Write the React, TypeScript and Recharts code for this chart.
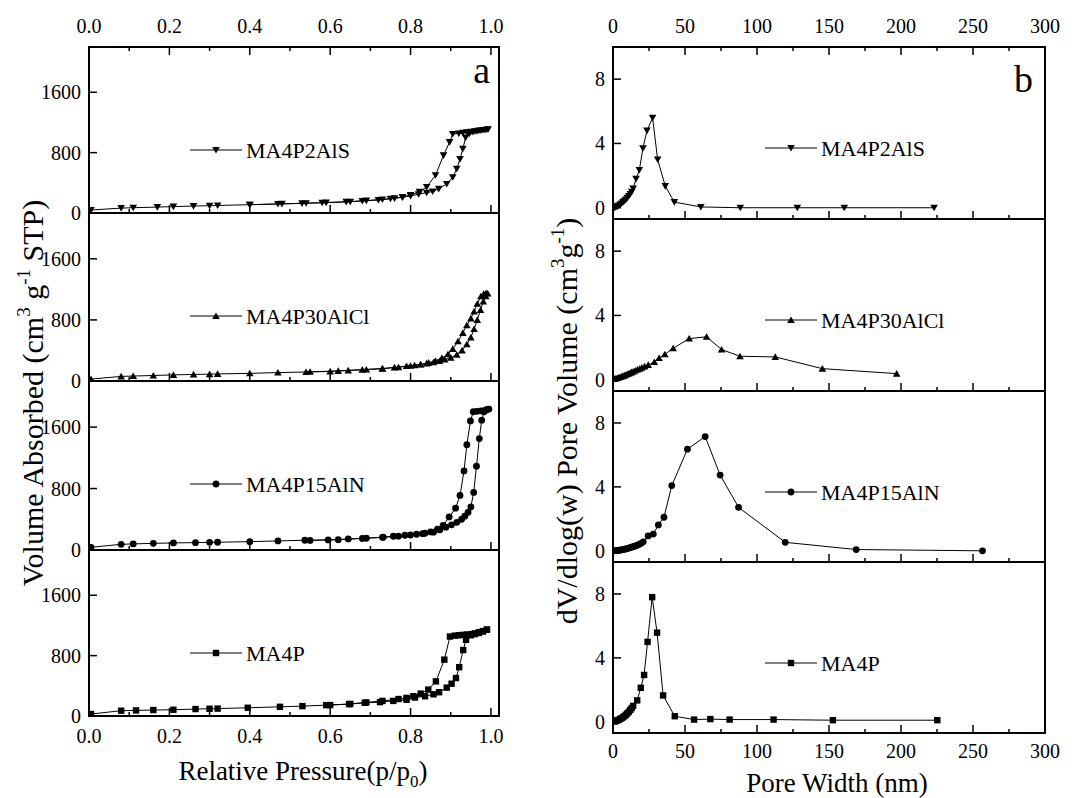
import React from "react";
import { LineChart, Line, XAxis, YAxis, ReferenceArea, Legend } from "recharts";

const FONT = '"Liberation Serif", "Times New Roman", Times, serif';

// ---- (a) N2 isotherms: relative pressure vs volume adsorbed (adsorption, then desorption) ----
const alsP = [0.005, 0.08, 0.11, 0.17, 0.21, 0.26, 0.3, 0.32, 0.4, 0.47, 0.54, 0.59, 0.65, 0.69, 0.73, 0.76, 0.78, 0.8, 0.82, 0.84, 0.855, 0.87, 0.89, 0.905, 0.915, 0.923, 0.93, 0.937, 0.946, 0.955, 0.965, 0.975, 0.985, 0.993,
  0.99, 0.98, 0.97, 0.96, 0.95, 0.94, 0.93, 0.92, 0.905, 0.897, 0.882, 0.862, 0.84, 0.822, 0.8, 0.78, 0.75, 0.72, 0.68, 0.64, 0.58, 0.53, 0.48, 0.4];
const alsV = [40, 65, 70, 78, 85, 92, 97, 100, 110, 120, 130, 138, 150, 165, 180, 195, 210, 225, 250, 270, 285, 320, 385, 475, 585, 715, 850, 1000, 1050, 1075, 1085, 1095, 1100, 1110,
  1108, 1100, 1092, 1085, 1078, 1070, 1062, 1055, 1048, 940, 765, 500, 345, 280, 240, 210, 190, 172, 160, 148, 136, 128, 121, 110];

const alclP = [0.005, 0.08, 0.11, 0.16, 0.21, 0.26, 0.3, 0.32, 0.4, 0.47, 0.54, 0.6, 0.645, 0.69, 0.73, 0.76, 0.79, 0.81, 0.825, 0.84, 0.857, 0.872, 0.885, 0.9, 0.915, 0.928, 0.94, 0.95, 0.958, 0.966, 0.974, 0.981, 0.987, 0.992,
  0.988, 0.982, 0.975, 0.966, 0.958, 0.95, 0.94, 0.93, 0.918, 0.905, 0.893, 0.878, 0.862, 0.845, 0.825, 0.8, 0.77, 0.73, 0.68, 0.62, 0.55];
const alclV = [25, 60, 65, 72, 80, 86, 90, 93, 100, 110, 118, 125, 138, 150, 162, 178, 195, 205, 215, 230, 245, 262, 280, 305, 345, 400, 480, 570, 680, 800, 930, 1040, 1110, 1145,
  1150, 1140, 1110, 1010, 910, 820, 730, 630, 520, 420, 350, 300, 265, 240, 218, 200, 180, 163, 148, 132, 120];

const alnP = [0.005, 0.08, 0.11, 0.16, 0.21, 0.265, 0.3, 0.32, 0.4, 0.47, 0.537, 0.595, 0.645, 0.69, 0.732, 0.757, 0.786, 0.815, 0.836, 0.857, 0.873, 0.888, 0.902, 0.915, 0.927, 0.935, 0.943, 0.95, 0.957, 0.964, 0.971, 0.977, 0.983, 0.989, 0.995,
  0.99, 0.983, 0.975, 0.965, 0.956, 0.949, 0.94, 0.933, 0.923, 0.912, 0.896, 0.881, 0.867, 0.85, 0.83, 0.8, 0.77, 0.73, 0.68, 0.62, 0.55];
const alnV = [35, 74, 79, 87, 92, 96, 100, 101, 109, 118, 127, 131, 144, 153, 166, 179, 192, 205, 218, 232, 262, 297, 328, 360, 400, 440, 490, 560, 750, 1090, 1450, 1690, 1800, 1825, 1835,
  1830, 1815, 1810, 1805, 1800, 1680, 1370, 1030, 710, 545, 430, 320, 270, 235, 212, 195, 180, 165, 150, 135, 125];

const ma4pP = [0.005, 0.08, 0.117, 0.16, 0.21, 0.265, 0.3, 0.32, 0.395, 0.475, 0.531, 0.59, 0.647, 0.686, 0.724, 0.757, 0.79, 0.811, 0.836, 0.857, 0.871, 0.89, 0.902, 0.913, 0.921, 0.931, 0.938, 0.95, 0.96, 0.97, 0.98, 0.99,
  0.99, 0.98, 0.97, 0.96, 0.95, 0.94, 0.93, 0.92, 0.91, 0.898, 0.884, 0.863, 0.844, 0.825, 0.807, 0.79, 0.77, 0.73, 0.69, 0.65, 0.6];
const ma4pV = [26, 70, 74, 79, 83, 92, 96, 98, 109, 122, 131, 144, 157, 175, 184, 200, 215, 245, 262, 288, 315, 376, 428, 503, 647, 874, 1009, 1070, 1085, 1100, 1120, 1145,
  1145, 1125, 1110, 1095, 1085, 1080, 1075, 1070, 1065, 1053, 747, 459, 350, 297, 262, 240, 225, 200, 180, 160, 145];

// ---- (b) pore size distributions: pore width (nm) vs dV/dlog(w) ----
const alsW = [1, 2, 3, 4, 5, 6, 7, 8, 9, 10, 11, 12, 13, 14, 16, 18.3, 20.8, 23.6, 27.5, 31, 36.3, 42.6, 61, 88.4, 128, 160.6, 223];
const alsD = [0, 0.04, 0.09, 0.14, 0.2, 0.27, 0.35, 0.43, 0.52, 0.62, 0.73, 0.86, 1.0, 1.2, 1.8, 2.35, 3.7, 4.8, 5.6, 3.0, 1.35, 0.35, 0.05, 0, 0, 0, 0];

const alclW = [1, 2, 3, 4, 5, 6, 7, 8, 9, 10, 11, 12, 13, 14, 15.5, 17, 18.5, 20, 22, 24.5, 28.7, 32, 36, 41.8, 52.9, 65, 75.4, 88.2, 112.7, 145.4, 197];
const alclD = [0.05, 0.08, 0.11, 0.14, 0.17, 0.2, 0.24, 0.27, 0.31, 0.35, 0.39, 0.43, 0.47, 0.51, 0.57, 0.63, 0.69, 0.75, 0.83, 0.92, 1.1, 1.35, 1.58, 1.96, 2.56, 2.67, 1.88, 1.46, 1.42, 0.69, 0.38];

const alnW = [1, 2, 3, 4, 5, 6, 7, 8, 9, 10, 11, 12, 13, 14, 15, 16.5, 18, 19.5, 21, 24.4, 28, 31.5, 35.4, 40.8, 51.7, 64, 74.4, 87.2, 119.6, 168.9, 256.6];
const alnD = [0, 0.01, 0.02, 0.03, 0.05, 0.06, 0.08, 0.1, 0.12, 0.14, 0.17, 0.2, 0.23, 0.26, 0.29, 0.34, 0.4, 0.47, 0.56, 0.93, 1.05, 1.62, 2.1, 4.08, 6.36, 7.15, 4.74, 2.72, 0.53, 0.08, 0];

const ma4pW = [1, 2, 3, 4, 5, 6, 7, 8, 9, 10, 11, 12, 13, 14, 16.8, 19.3, 21.6, 24, 27.2, 30.6, 34.8, 42.9, 56.3, 67.6, 81, 111.5, 152.7, 225.2];
const ma4pD = [0.02, 0.05, 0.09, 0.13, 0.18, 0.23, 0.29, 0.36, 0.44, 0.53, 0.63, 0.74, 0.86, 1.0, 1.34, 2.13, 2.93, 5.0, 7.8, 5.58, 1.65, 0.35, 0.14, 0.17, 0.14, 0.14, 0.1, 0.1];

const sampleNames = ["MA4P2AlS", "MA4P30AlCl", "MA4P15AlN", "MA4P"];
const markerShapes = ["down", "up", "circle", "square"];
const isoP = [alsP, alclP, alnP, ma4pP];
const isoV = [alsV, alclV, alnV, ma4pV];
const psdW = [alsW, alclW, alnW, ma4pW];
const psdD = [alsD, alclD, alnD, ma4pD];

const pressureTicks = [0, 0.1, 0.2, 0.3, 0.4, 0.5, 0.6, 0.7, 0.8, 0.9, 1.0];
const widthTicks = [0, 25, 50, 75, 100, 125, 150, 175, 200, 225, 250, 275, 300];
const volumeTicks = [0, 800, 1600];
const poreTicks = [0, 4, 8];

const zip = (xs: number[], ys: number[]) => xs.map((x, i) => ({ x, v: ys[i] }));

function Marker({ cx, cy, shape }: { cx?: number; cy?: number; shape: string }) {
  if (cx == null || cy == null || isNaN(cx) || isNaN(cy)) return null;
  if (shape === "down")
    return <path d={`M${cx - 3.8},${cy - 3} L${cx + 3.8},${cy - 3} L${cx},${cy + 3.6} Z`} fill="#000" />;
  if (shape === "up")
    return <path d={`M${cx - 3.8},${cy + 3} L${cx + 3.8},${cy + 3} L${cx},${cy - 3.6} Z`} fill="#000" />;
  if (shape === "circle") return <circle cx={cx} cy={cy} r={3.4} fill="#000" />;
  return <rect x={cx - 3.2} y={cy - 3.2} width={6.4} height={6.4} fill="#000" />;
}

interface SubProps {
  data: { x: number; v: number }[];
  shape: string;
  name: string;
  left: number;
  top: number;
  w: number;
  h: number;
  xDomain: [number, number];
  yDomain: [number, number];
  xTicks: number[];
  yTicks: number[];
  showTop: boolean;
  showBottom: boolean;
  fmt: (v: number) => string;
  labelGap: number;
  legendX: number;
  legendY: number;
}

const Sub = (p: SubProps) => {
  const mL = 60, mT = 40, mR = 30, mB = 40;
  const cl = p.left - mL, ct = p.top - mT;

  const bottomTick = (t: any) => {
    const major = t.index % 2 === 0;
    return (
      <g key={`b${t.index}`}>
        <line x1={t.x} x2={t.x} y1={t.y} y2={t.y - (major ? 8 : 4)} stroke="#000" strokeWidth={1.5} />
        {p.showBottom && major && (
          <text x={t.x} y={t.y + p.labelGap} textAnchor="middle" fontFamily={FONT} fontSize={20} fill="#000">
            {p.fmt(t.payload.value)}
          </text>
        )}
      </g>
    );
  };
  const topTick = (t: any) => {
    const major = t.index % 2 === 0;
    return (
      <g key={`t${t.index}`}>
        <line x1={t.x} x2={t.x} y1={t.y} y2={t.y + (major ? 8 : 4)} stroke="#000" strokeWidth={1.5} />
        {major && (
          <text x={t.x} y={t.y - 14} textAnchor="middle" fontFamily={FONT} fontSize={20} fill="#000">
            {p.fmt(t.payload.value)}
          </text>
        )}
      </g>
    );
  };
  const leftTick = (t: any) => (
    <g key={`l${t.index}`}>
      <line x1={t.x} x2={t.x + 8} y1={t.y} y2={t.y} stroke="#000" strokeWidth={1.5} />
      <text x={t.x - 8} y={t.y + 7} textAnchor="end" fontFamily={FONT} fontSize={20} fill="#000">
        {t.payload.value}
      </text>
    </g>
  );

  return (
    <div style={{ position: "absolute", left: cl, top: ct }}>
      <LineChart
        width={p.w + mL + mR}
        height={p.h + mT + mB}
        data={p.data}
        margin={{ top: p.showTop ? mT - 1 : mT, right: mR, bottom: mB - 1, left: mL - 1 }}
      >
        <XAxis xAxisId="b" dataKey="x" type="number" domain={p.xDomain} ticks={p.xTicks} interval={0}
          height={1} tickSize={0} tickMargin={0} axisLine={false} tickLine={false} allowDataOverflow tick={bottomTick} />
        {p.showTop && (
          <XAxis xAxisId="t" orientation="top" dataKey="x" type="number" domain={p.xDomain} ticks={p.xTicks} interval={0}
            height={1} tickSize={0} tickMargin={0} axisLine={false} tickLine={false} allowDataOverflow tick={topTick} />
        )}
        <YAxis yAxisId="l" type="number" domain={p.yDomain} ticks={p.yTicks} interval={0}
          width={1} tickSize={0} tickMargin={0} axisLine={false} tickLine={false} allowDataOverflow tick={leftTick} />
        <ReferenceArea xAxisId="b" yAxisId="l" x1={p.xDomain[0]} x2={p.xDomain[1]} y1={p.yDomain[0]} y2={p.yDomain[1]}
          fill="none" fillOpacity={0} stroke="#000" strokeWidth={2} ifOverflow="visible" />
        <Line xAxisId="b" yAxisId="l" type="linear" dataKey="v" stroke="#000" strokeWidth={1}
          isAnimationActive={false}
          dot={(d: any) => <Marker key={`d${d.index}`} cx={d.cx} cy={d.cy} shape={p.shape} />}
          activeDot={false} />
        <Legend
          layout="horizontal"
          verticalAlign="middle"
          align="center"
          wrapperStyle={{ left: p.legendX - cl, top: p.legendY - 15 - ct, width: 260, height: 30 }}
          content={() => (
            <svg width={260} height={30} style={{ display: "block" }}>
              <line x1={0} x2={52} y1={15} y2={15} stroke="#000" strokeWidth={1} />
              <Marker cx={26} cy={15} shape={p.shape} />
              <text x={56} y={22.5} fontFamily={FONT} fontSize={22} fill="#000">{p.name}</text>
            </svg>
          )}
        />
      </LineChart>
    </div>
  );
};

const aBounds = [47, 213, 381, 550, 716];
const bBounds = [47, 219, 391, 562, 733];

export default function App() {
  return (
    <div style={{ position: "absolute", left: 0, top: 0, width: 1085, height: 798, background: "#fff", overflow: "hidden" }}>
      {sampleNames.map((name, i) => (
        <Sub
          key={`a${i}`}
          data={zip(isoP[i], isoV[i])}
          shape={markerShapes[i]}
          name={name}
          left={89}
          top={aBounds[i]}
          w={410}
          h={aBounds[i + 1] - aBounds[i]}
          xDomain={[0, 1.02]}
          yDomain={[0, 2200]}
          xTicks={pressureTicks}
          yTicks={volumeTicks}
          showTop={i === 0}
          showBottom={i === 3}
          fmt={(v) => v.toFixed(1)}
          labelGap={27}
          legendX={190}
          legendY={aBounds[i] + 103}
        />
      ))}
      {sampleNames.map((name, i) => (
        <Sub
          key={`b${i}`}
          data={zip(psdW[i], psdD[i])}
          shape={markerShapes[i]}
          name={name}
          left={613}
          top={bBounds[i]}
          w={432}
          h={bBounds[i + 1] - bBounds[i]}
          xDomain={[0, 300]}
          yDomain={[-0.7, 10]}
          xTicks={widthTicks}
          yTicks={poreTicks}
          showTop={i === 0}
          showBottom={i === 3}
          fmt={(v) => String(v)}
          labelGap={25}
          legendX={765}
          legendY={bBounds[i] + 101}
        />
      ))}
      <svg width={1085} height={798} style={{ position: "absolute", left: 0, top: 0, pointerEvents: "none" }}>
        <g fontFamily={FONT} fill="#000">
          <text x={490} y={83} fontSize={38} textAnchor="end">a</text>
          <text x={1033} y={92} fontSize={38} textAnchor="end">b</text>
          <text x={303} y={780} fontSize={27} textAnchor="middle">
            Relative Pressure(p/p<tspan fontSize={17} dy={7}>0</tspan><tspan dy={-7}>)</tspan>
          </text>
          <text x={837} y={792} fontSize={27} textAnchor="middle">Pore Width (nm)</text>
          <text x={43} y={393} fontSize={30} textAnchor="middle" transform="rotate(-90 43 393)">
            Volume Absorbed (cm<tspan fontSize={19} dy={-13}>3</tspan>
            <tspan dy={13}> g</tspan><tspan fontSize={19} dy={-13}>-1</tspan>
            <tspan dy={13}> STP)</tspan>
          </text>
          <text x={577} y={421} fontSize={30} textAnchor="middle" transform="rotate(-90 577 421)">
            dV/dlog(w) Pore Volume (cm<tspan fontSize={19} dy={-13}>3</tspan>
            <tspan dy={13}>g</tspan><tspan fontSize={19} dy={-13}>-1</tspan>
            <tspan dy={13}>)</tspan>
          </text>
        </g>
      </svg>
    </div>
  );
}
